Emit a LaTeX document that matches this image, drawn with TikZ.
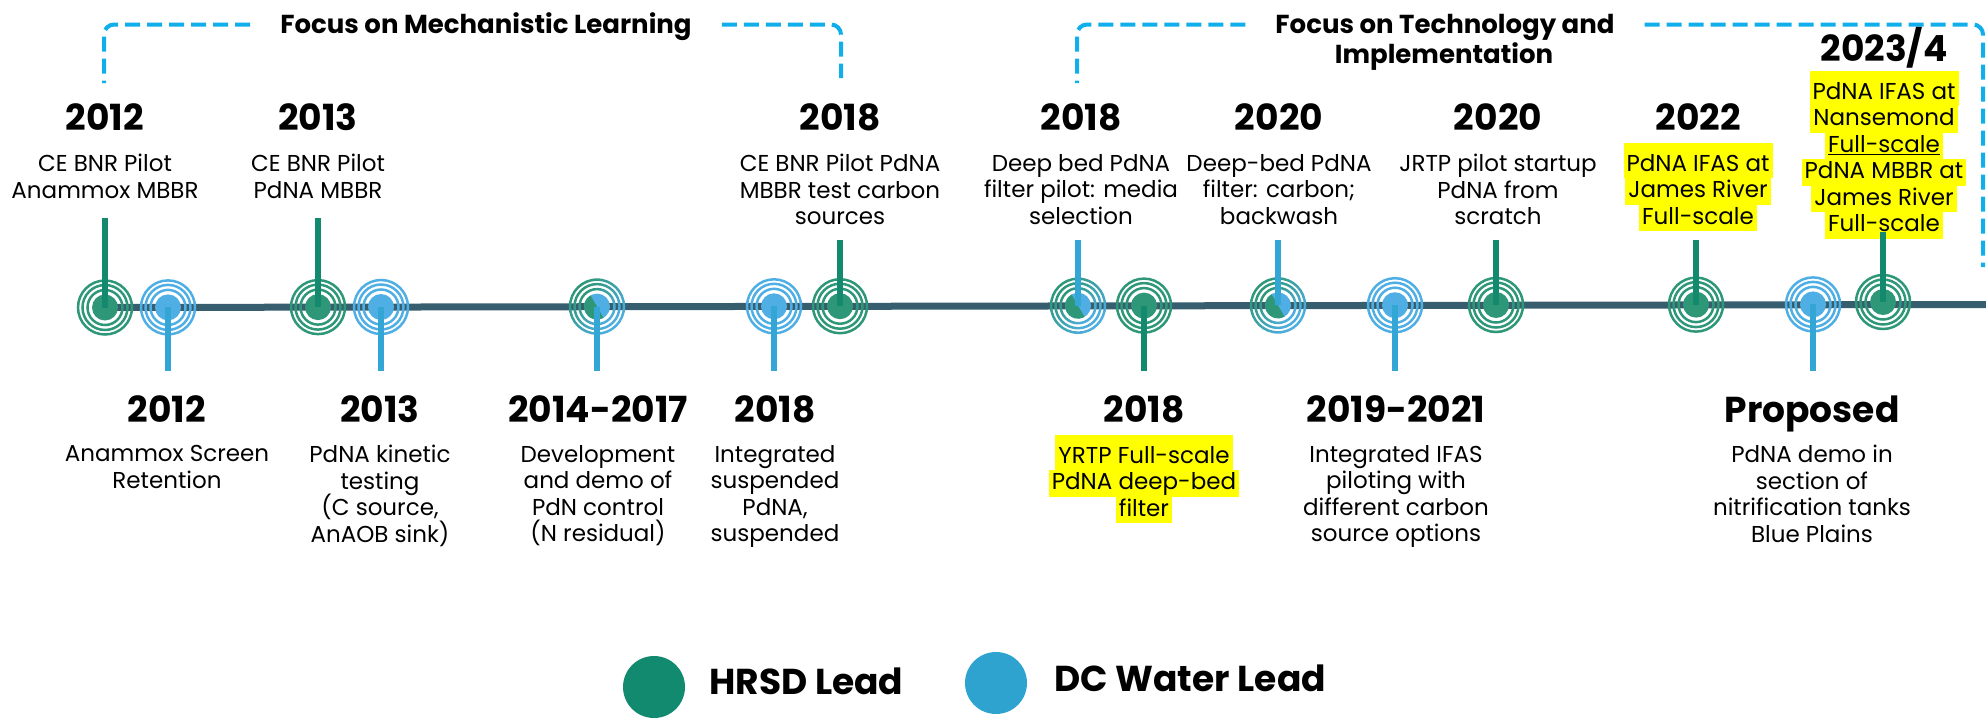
\documentclass[tikz,border=0pt]{standalone}
\usepackage{fontspec}
\setmainfont{Poppins}
\usetikzlibrary{positioning,backgrounds}

\definecolor{hrsdring}{HTML}{2E9777}
\definecolor{hrsdstem}{HTML}{13896E}
\definecolor{dcring}{HTML}{4FAFE5}
\definecolor{dcstem}{HTML}{34A6D5}
\definecolor{barcol}{HTML}{365E6E}
\definecolor{focuscol}{HTML}{10AEEA}
\definecolor{hlcol}{HTML}{FFFF00}
\definecolor{hrsdkey}{HTML}{118A70}
\definecolor{dckey}{HTML}{2FA3D0}

% yellow marker behind one line of text
\newcommand{\hlfirst}[1]{{\fboxsep=0pt\colorbox{hlcol}{\kern3pt\rule[-7pt]{0pt}{35pt}#1\kern3pt}}}
\newcommand{\hl}[1]{{\fboxsep=0pt\colorbox{hlcol}{\kern3pt\rule[-7pt]{0pt}{26.5pt}#1\kern3pt}}}
\newcommand{\blurbfont}{\fontsize{23}{26.5}\selectfont\lineskiplimit=-40pt\relax}

\tikzset{
  year/.style={font=\fontsize{36}{40}\selectfont\bfseries, inner sep=0,
    text height=25pt, text depth=0pt},
  blurb/.style={font=\blurbfont, align=center, inner sep=0},
  heading/.style={font=\fontsize{26}{30}\selectfont\bfseries, inner ysep=0,
    inner xsep=30pt, text height=17.5pt, text depth=0pt},
  key/.style={font=\fontsize{36}{40}\selectfont\bfseries, inner sep=0,
    text height=26pt, text depth=0pt},
  focus/.style={focuscol, line width=4pt, dash pattern=on 15pt off 7pt,
    rounded corners=10pt},
  bar/.style={barcol, line width=7pt},
  hstem/.style={hrsdstem, line width=6pt},
  dstem/.style={dcstem, line width=6pt},
  core/.style={circle, minimum size=26pt, inner sep=0},
  mixring/.style={even odd rule, left color=hrsdring, right color=dcring,
    shading angle=45},
  hrsd/.pic={
    \draw[hrsdring, line width=2.5pt] (0,0) circle (17.5pt) (0,0) circle (22.5pt)
      (0,0) circle (27pt);
    \node[core, fill=hrsdring] (-c) {};
  },
  dcw/.pic={
    \draw[dcring, line width=2.5pt] (0,0) circle (17.5pt) (0,0) circle (22.5pt)
      (0,0) circle (27pt);
    \node[core, fill=dcring] (-c) {};
  },
  joint/.pic={
    \path[mixring] (0,0) circle (16.25pt) (0,0) circle (18.75pt);
    \path[mixring] (0,0) circle (21.25pt) (0,0) circle (23.75pt);
    \path[mixring] (0,0) circle (25.75pt) (0,0) circle (28.25pt);
    \node[core, fill=dcring] (-c) {};
    \fill[hrsdring] (120:13pt) arc (120:300:13pt) -- cycle;
  }
}

\begin{document}
\begin{tikzpicture}[x=1pt, y=1pt]
  \useasboundingbox (0,0) rectangle (1986,-720);

  % the two focus brackets
  \node[heading] (f1) at (486,-24.5) {Focus on Mechanistic Learning};
  \node[heading] (f2) at (1445,-24.5) {Focus on Technology and};
  \node[heading] (f2b) at (1444,-54.5) {Implementation};
  \coordinate (f1l) at (104,-83);
  \coordinate (f1r) at (841,-78);
  \coordinate (f2l) at (1077,-83);
  \coordinate (f2r) at (1983,-267);
  \draw[focus] (f1.west) -| (f1l);
  \draw[focus] (f1.east) -| (f1r);
  \draw[focus] (f2.west) -| (f2l);
  \draw[focus] (f2.east) -| (f2r);

  % milestones on the time line
  \pic (m1) at (105,-307.5) {hrsd};
  \pic (m2) at (168,-307.4) {dcw};
  \pic (m3) at (318,-307.1) {hrsd};
  \pic (m4) at (381,-307) {dcw};
  \pic (m5) at (597,-306.6) {joint};
  \pic (m6) at (774,-306.3) {dcw};
  \pic (m7) at (840,-306.2) {hrsd};
  \pic (m8) at (1078,-305.7) {joint};
  \pic (m9) at (1144,-305.6) {hrsd};
  \pic (m10) at (1278,-305.4) {joint};
  \pic (m11) at (1395,-305.2) {dcw};
  \pic (m12) at (1496,-305) {hrsd};
  \pic (m13) at (1696,-304.6) {hrsd};
  \pic (m14) at (1813,-304.4) {dcw};
  \pic (m15) at (1883,-302) {hrsd};
  \coordinate (lineend) at (1986,-304.5);
  \begin{scope}[on background layer]
    \draw[bar] (m1-c.center) -- (lineend);
  \end{scope}

  % upper row
  \node[year] (y1) at (105,-117.5) {2012};
  \node[blurb, below=24pt of y1] (d1) {CE BNR Pilot\\Anammox MBBR};
  \node[year] (y3) at (318,-117.5) {2013};
  \node[blurb, below=24pt of y3] (d3) {CE BNR Pilot\\PdNA MBBR};
  \node[year] (y7) at (840,-117.5) {2018};
  \node[blurb, below=24pt of y7] (d7) {CE BNR Pilot PdNA\\MBBR test carbon\\sources};
  \node[year] (y8) at (1081,-117.5) {2018};
  \node[blurb, below=24pt of y8] (d8) {Deep bed PdNA\\filter pilot: media\\selection};
  \node[year] (y10) at (1279,-117.5) {2020};
  \node[blurb, below=24pt of y10] (d10) {Deep-bed PdNA\\filter: carbon;\\backwash};
  \node[year] (y12) at (1498,-117.5) {2020};
  \node[blurb, below=24pt of y12] (d12) {JRTP pilot startup\\PdNA from\\scratch};
  \node[year] (y13) at (1698,-117.5) {2022};
  \node[blurb, below=13pt of y13] (d13)
    {\hlfirst{PdNA IFAS at}\\\hl{James River}\\\hl{Full-scale}};
  \node[year] (y15) at (1884,-48.5) {2023/4};
  \node[blurb, below=10pt of y15] (d15)
    {\hlfirst{PdNA IFAS at}\\\hl{Nansemond}\\\hl{\underline{Full-scale}}\\
     \hl{PdNA MBBR at}\\\hl{James River}\\\hl{Full-scale}};

  % lower row
  \node[year] (y2) at (167,-409.5) {2012};
  \node[blurb, below=23pt of y2] (d2) {Anammox Screen\\Retention};
  \node[year] (y4) at (380,-409.5) {2013};
  \node[blurb, below=23pt of y4] (d4) {PdNA kinetic\\testing\\(C source,\\AnAOB sink)};
  \node[year] (y5) at (598,-409.5) {2014-2017};
  \node[blurb, below=23pt of y5] (d5) {Development\\and demo of\\PdN control\\(N residual)};
  \node[year] (y6) at (775,-409.5) {2018};
  \node[blurb, below=23pt of y6] (d6) {Integrated\\suspended\\PdNA,\\suspended};
  \node[year] (y9) at (1144,-409.5) {2018};
  \node[blurb, below=13pt of y9] (d9)
    {\hlfirst{YRTP Full-scale}\\\hl{PdNA deep-bed}\\\hl{filter}};
  \node[year] (y11) at (1396,-409.5) {2019-2021};
  \node[blurb, below=23pt of y11] (d11)
    {Integrated IFAS\\piloting with\\different carbon\\source options};
  \node[year] (y14) at (1812,-409.5) {Proposed};
  \node[blurb, below=23pt of y14] (d14)
    {PdNA demo in\\section of\\nitrification tanks\\Blue Plains};

  % stems from the line to the texts
  \coordinate (hi) at (0,-218);
  \coordinate (mid) at (0,-240);
  \coordinate (top) at (0,-232);
  \coordinate (lo) at (0,-371);
  \draw[hstem] (m1-c.center) -- (m1-c.center |- hi);
  \draw[hstem] (m3-c.center) -- (m3-c.center |- hi);
  \draw[hstem] (m7-c.center) -- (m7-c.center |- mid);
  \draw[dstem] (m8-c.center) -- (m8-c.center |- mid);
  \draw[dstem] (m10-c.center) -- (m10-c.center |- mid);
  \draw[hstem] (m12-c.center) -- (m12-c.center |- mid);
  \draw[hstem] (m13-c.center) -- (m13-c.center |- mid);
  \draw[hstem] (m15-c.center) -- (m15-c.center |- top);
  \draw[dstem] (m2-c.center) -- (m2-c.center |- lo);
  \draw[dstem] (m4-c.center) -- (m4-c.center |- lo);
  \draw[dstem] (m5-c.center) -- (m5-c.center |- lo);
  \draw[dstem] (m6-c.center) -- (m6-c.center |- lo);
  \draw[hstem] (m9-c.center) -- (m9-c.center |- lo);
  \draw[dstem] (m11-c.center) -- (m11-c.center |- lo);
  \draw[dstem] (m14-c.center) -- (m14-c.center |- lo);

  % legend
  \node[circle, fill=hrsdkey, minimum size=62pt, inner sep=0] (k1) at (654,-687) {};
  \node[key, right=24pt of k1, yshift=6pt] (k1t) {HRSD Lead};
  \node[circle, fill=dckey, minimum size=62pt, inner sep=0] (k2) at (996,-683) {};
  \node[key, right=27pt of k2, yshift=5pt] (k2t) {DC Water Lead};
\end{tikzpicture}
\end{document}
